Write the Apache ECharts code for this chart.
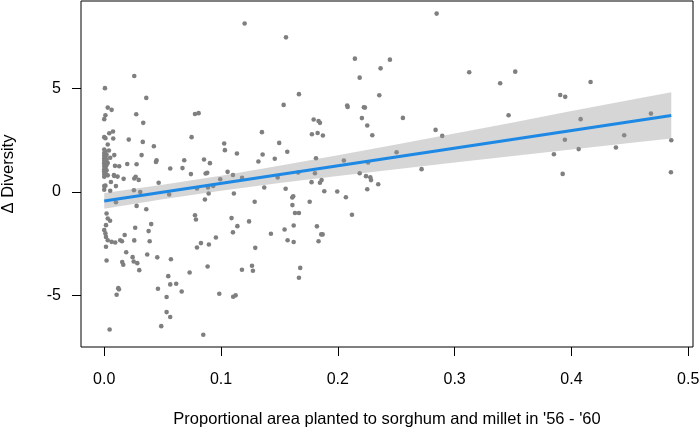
<!DOCTYPE html>
<html>
<head>
<meta charset="utf-8">
<script src="https://cdn.jsdelivr.net/npm/echarts@6/dist/echarts.min.js"></script>
<style>
html,body{margin:0;padding:0;background:#fff;}
#chart{width:700px;height:429px;}
</style>
</head>
<body>
<div id="chart"></div>
<script>
// ---- data ----
const xTitle = "Proportional area planted to sorghum and millet in '56 - '60";
const yTitle = "\u0394 Diversity";
const xTicks = [0, 0.1, 0.2, 0.3, 0.4, 0.5];
const yTicks = [-5, 0, 5];

const pointsX = [
0.0257,0.0006,0.036,0.003,0.0063,0.0274,0.001,0.0,0.0334,0.0777,0.0808,0.135,0.0748,0.0075,0.0043,0.0,0.001,0.0077,0.021,0.033,
0.003,0.0425,0.1027,0.1033,0.1136,0.1356,0.1498,0.146,0.132,0.032,0.0448,0.0443,0.0685,0.0854,0.0905,0.067,0.0565,0.0197,0.0277,0.0092,
0.0128,0.0868,0.0882,0.0742,0.1056,0.1102,0.118,0.0993,0.0166,0.0257,0.0269,0.0295,0.0083,0.0466,0.0556,0.0794,0.0888,0.0933,0.0894,0.111,
0.0862,0.0254,0.0308,0.1288,0.0277,0.036,0.0777,0.0785,0.109,0.114,0.1102,0.124,0.0402,0.0265,0.038,0.0175,0.0137,0.0152,0.0063,0.0094,
0.0257,0.0389,0.1427,0.0956,0.0896,0.0828,0.0794,0.1293,0.002,0.0188,0.0243,0.0252,0.0283,0.0154,0.0163,0.03,0.0454,0.0368,0.0571,0.0885,
0.0731,0.1179,0.1265,0.1273,0.0548,0.0565,0.0616,0.046,0.0663,0.012,0.0126,0.0106,0.0534,0.0985,0.1104,0.1125,0.0046,0.0488,0.0565,0.0534,
0.0848,0.1202,0.1556,0.1536,0.1544,0.137,0.1485,0.1553,
0.2846,0.2146,0.2446,0.2366,0.2187,0.3125,0.3519,0.339,0.4164,0.3904,0.3947,0.1667,0.2355,0.208,0.2084,0.2223,0.2232,0.2557,0.3462,0.4681,
0.4079,0.2206,0.1793,0.1835,0.1847,0.2252,0.1778,0.1827,0.1872,0.2295,0.2837,0.2894,0.4452,0.3944,0.4855,0.4062,0.4381,0.385,0.2503,0.1567,
0.1813,0.2052,0.2259,0.3925,0.4852,0.2717,0.1661,0.1804,0.2187,0.2241,0.2278,0.2284,0.1775,0.1847,0.1861,0.2346,0.1884,0.1995,0.2252,0.2069,
0.161,0.1618,0.1611,0.1633,0.1667,0.1759,0.1622,0.157,0.1622,0.1821,0.1858,0.187,0.1835,0.2121,0.1678,0.1667,
0.0,0.001,0.0,0.002,0.0,0.001,0.0,0.002,0.0,0.001,0.0,0.002,0.0,0.001,0.0,0.002,0.0,0.001,0.0,0.003,
0.0,0.001,0.003,0.001,0.0,0.004,
0.0051,0.0086,0.0086,0.0114,0.0057,0.01,0.0,0.0051,0.01,
0.002,0.003,0.005,0.0015,0.0,0.001,0.0015,0.003,0.0015
];
const pointsY = [
5.61,5.02,4.55,4.08,3.97,3.76,3.71,3.52,3.34,3.77,3.81,2.89,2.65,2.92,2.84,2.65,2.6,2.58,2.53,2.42,
2.29,2.21,2.34,2.02,1.86,1.81,2.37,1.6,1.47,1.78,1.53,1.45,1.53,1.57,1.39,1.15,1.13,1.35,1.34,1.26,
1.24,0.89,0.92,0.86,0.97,0.82,0.68,0.61,0.63,0.65,0.73,0.58,0.81,0.44,-0.13,0.16,0.21,0.29,-0.08,-0.08,
-0.37,0.08,-0.01,-0.48,-0.68,-0.84,-1.13,-1.34,-1.27,-1.66,-1.96,-1.43,-1.56,-1.74,-1.9,-2.09,-2.34,-2.39,-2.42,-2.45,
-2.35,-2.39,-2.03,-2.21,-2.55,-2.48,-2.69,-2.71,-3.32,-2.92,-3.16,-3.37,-3.45,-3.4,-3.53,-3.79,-3.17,-3.03,-3.26,-3.61,
-3.9,-3.77,-3.58,-3.82,-4.08,-4.48,-4.45,-4.69,-4.82,-4.66,-4.72,-4.98,-5.09,-4.93,-5.08,-5.01,-6.66,-6.5,-6.06,-5.82,
-6.92,8.15,7.48,4.21,-1.82,0.21,0.7,0.15,
8.63,6.45,6.4,5.98,5.53,5.79,5.82,5.26,5.32,4.69,4.6,4.73,4.68,4.18,4.11,4.1,4.08,3.58,3.71,3.79,
3.52,3.57,3.5,3.43,3.34,3.21,2.79,2.85,2.73,2.74,3.0,2.71,2.74,2.52,2.5,2.07,2.15,1.82,1.92,1.94,
1.63,1.52,1.42,0.87,0.95,1.1,0.94,0.9,0.9,0.76,0.71,0.57,0.47,0.44,0.57,0.37,0.03,0.02,0.13,-0.26,
-0.27,-0.21,-0.64,-1.02,-1.02,-0.48,-1.63,-2.34,-2.43,-1.67,-2.06,-2.06,-2.39,-1.11,-3.68,-4.16,
2.05,1.95,1.88,1.8,1.75,1.7,1.62,1.55,1.5,1.45,1.38,1.3,1.25,1.18,1.1,1.05,1.0,0.93,0.87,0.8,
0.73,1.6,1.4,0.3,0.1,2.0,
1.65,1.78,0.77,0.74,0.48,0.28,0.28,0.05,-0.5,
-1.05,-1.29,-1.4,-1.61,-1.85,-2.01,-2.18,-2.34,-2.66
];

const fitX = [0, 0.4855];
const fitY = [-0.44, 3.70];

const bandX     = [0, 0.05, 0.1, 0.15, 0.2, 0.25, 0.3, 0.35, 0.4, 0.45, 0.4855];
const bandLower = [-0.82, -0.36, 0.05, 0.43, 0.77, 1.10, 1.42, 1.74, 2.05, 2.36, 2.58];
const bandUpper = [-0.06, 0.34, 0.78, 1.26, 1.77, 2.29, 2.82, 3.36, 3.91, 4.45, 4.82];

// ---- chart ----
const FONT = "'Liberation Sans', Arial, Helvetica, sans-serif";
const chart = echarts.init(document.getElementById('chart'), null, {renderer: 'canvas'});

const scatterData = pointsX.map((x, i) => [x, pointsY[i]]);
const fitData = fitX.map((x, i) => [x, fitY[i]]);

chart.setOption({
  animation: false,
  backgroundColor: '#ffffff',
  grid: {
    left: 81, right: 7, top: 1, bottom: 82,
    containLabel: false,
    outerBoundsMode: 'none',
    show: true, borderColor: '#000', borderWidth: 1, backgroundColor: 'transparent'
  },
  xAxis: {
    type: 'value',
    min: -0.0199, max: 0.5041,
    axisLine: {show: false, onZero: false},
    splitLine: {show: false},
    axisTick: {show: true, inside: false, length: 9, customValues: xTicks, lineStyle: {color: '#000', width: 1}},
    axisLabel: {show: true, customValues: xTicks, margin: 25, color: '#000', fontSize: 16, fontFamily: FONT,
      formatter: v => v.toFixed(1)},
    name: xTitle,
    nameLocation: 'middle',
    nameGap: 64,
    nameTextStyle: {color: '#000', fontSize: 16.5, fontFamily: FONT}
  },
  yAxis: {
    type: 'value',
    min: -7.51, max: 9.24,
    axisLine: {show: false, onZero: false},
    splitLine: {show: false},
    axisTick: {show: true, inside: false, length: 9, customValues: yTicks, lineStyle: {color: '#000', width: 1}},
    axisLabel: {show: true, customValues: yTicks, margin: 20, color: '#000', fontSize: 16, fontFamily: FONT,
      formatter: v => String(v)},
    name: yTitle,
    nameLocation: 'middle',
    nameGap: 64,
    nameRotate: 90,
    nameTextStyle: {color: '#000', fontSize: 16.5, fontFamily: FONT}
  },
  series: [
    {
      type: 'scatter',
      data: scatterData,
      symbol: 'circle',
      symbolSize: 4.6,
      itemStyle: {color: '#7f7f7f', opacity: 1},
      silent: true,
      z: 2
    },
    {
      type: 'custom',
      silent: true,
      z: 3,
      data: [[0, 0]],
      renderItem: function (params, api) {
        if (params.dataIndex !== 0) return null;
        const up = bandX.map((x, i) => api.coord([x, bandUpper[i]]));
        const lo = bandX.map((x, i) => api.coord([x, bandLower[i]])).reverse();
        return {
          type: 'polygon',
          shape: {points: up.concat(lo)},
          style: {fill: 'rgba(153,153,153,0.4)', stroke: null}
        };
      }
    },
    {
      type: 'line',
      data: fitData,
      symbol: 'none',
      silent: true,
      z: 4,
      lineStyle: {color: '#1e88e5', width: 3}
    }
  ]
});
</script>
</body>
</html>
